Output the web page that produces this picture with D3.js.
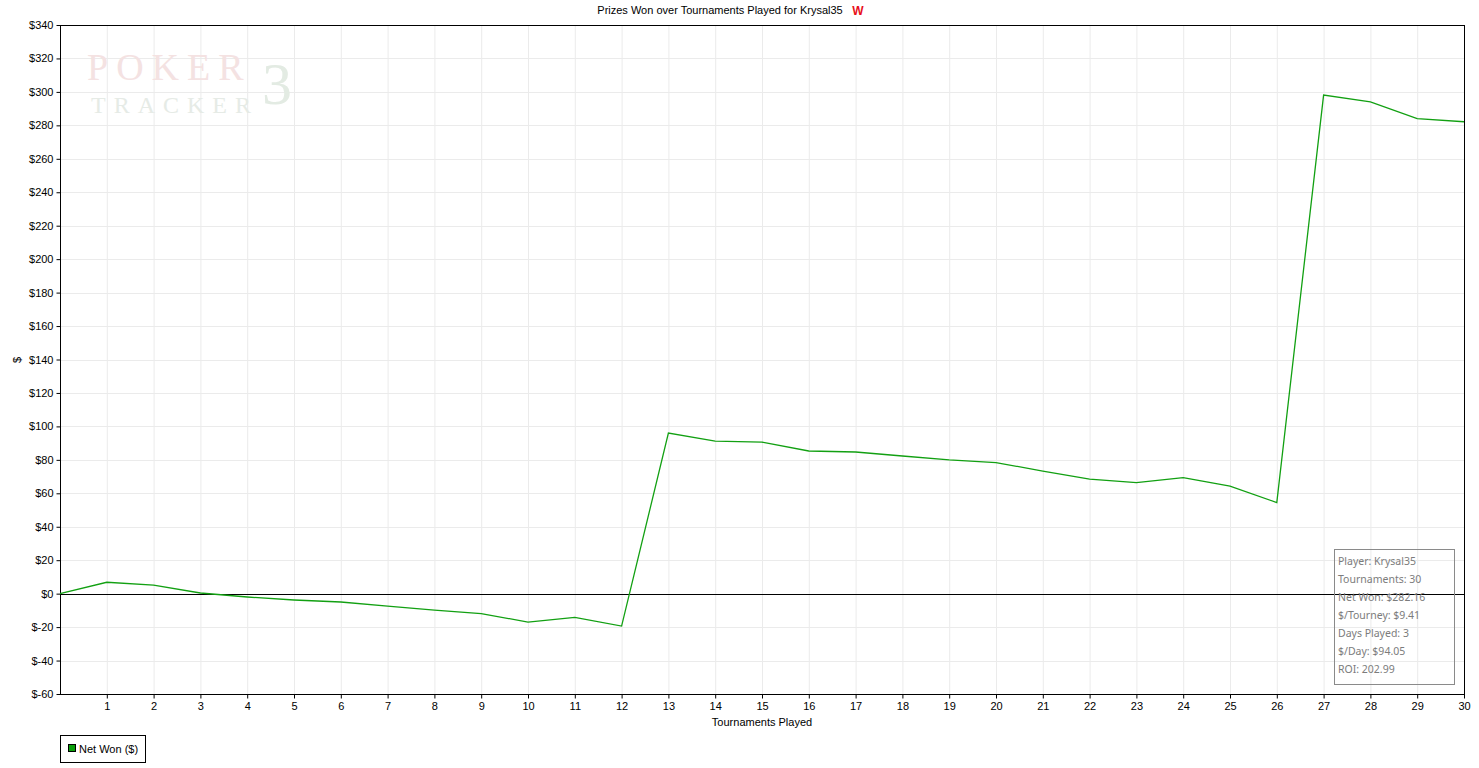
<!DOCTYPE html>
<html><head><meta charset="utf-8">
<script src="https://cdn.jsdelivr.net/npm/d3@7"></script>
<style>body{margin:0;background:#fff;}svg{display:block;}</style>
</head><body>
<script>
const tournaments = d3.range(0, 31);
const netWon = [0, 6.8, 5.1, 0.4, -2, -3.8, -5, -7.4, -9.8, -11.9, -17, -14.2, -19.4, 96, 91.2, 90.6, 85.3, 84.7, 82.3, 80, 78.4, 73.3, 68.5, 66.4, 69.4, 64.3, 54.5, 298.1, 294.1, 284, 282.16];
const xTicks = d3.range(1, 31);
const yTicks = d3.range(-60, 341, 20);
const infoLines = ["Player: Krysal35", "Tournaments: 30", "Net Won: $282.16", "$/Tourney: $9.41", "Days Played: 3", "$/Day: $94.05", "ROI: 202.99"];
const title = "Prizes Won over Tournaments Played for Krysal35";
const seriesName = "Net Won ($)";

const W = 1479, H = 768;
const L = 60, R = 1464, T = 25, B = 694;
const svg = d3.select("body").append("svg").attr("width", W).attr("height", H);
const font = "'Liberation Sans', Arial, sans-serif";

const x = d3.scaleLinear().domain([0, 30]).range([L, R]);
const y = d3.scaleLinear().domain([-60, 340]).range([B, T]);

// grid
svg.append("g").selectAll("line").data(xTicks).join("line")
  .attr("x1", d => x(d) + 0.5).attr("x2", d => x(d) + 0.5).attr("y1", T).attr("y2", B)
  .attr("stroke", "#ebebeb").attr("stroke-width", 1);
svg.append("g").selectAll("line").data(yTicks).join("line")
  .attr("x1", L).attr("x2", R).attr("y1", d => Math.round(y(d)) + 0.5).attr("y2", d => Math.round(y(d)) + 0.5)
  .attr("stroke", "#ebebeb").attr("stroke-width", 1);

// watermark
const wm = svg.append("g");
wm.append("text").attr("x", 87).attr("y", 80).text("POKER")
  .attr("font-family", "'Liberation Serif', 'DejaVu Serif', serif").attr("font-size", 38)
  .attr("letter-spacing", 8).attr("fill", "#f4e2e2");
wm.append("text").attr("x", 91).attr("y", 113).text("TRACKER")
  .attr("font-family", "'Liberation Serif', 'DejaVu Serif', serif").attr("font-size", 24)
  .attr("letter-spacing", 8).attr("fill", "#e6ebe6");
wm.append("text").attr("x", 262).attr("y", 104).text("3")
  .attr("font-family", "'Liberation Serif', 'DejaVu Serif', serif").attr("font-size", 60)
  .attr("fill", "#e3ebe3");

// axes
const yAxis = d3.axisLeft(y).tickValues(yTicks).tickSize(4).tickPadding(3)
  .tickFormat(d => "$" + d);
const gy = svg.append("g").attr("transform", `translate(${L + 0.5},0)`).call(yAxis);
gy.select(".domain").remove();
gy.selectAll("text").attr("font-family", font).attr("font-size", 11).attr("fill", "#000");
gy.selectAll("line").attr("stroke", "#000");

const xAxis = d3.axisBottom(x).tickValues(xTicks).tickSize(4).tickPadding(4).tickFormat(d3.format("d"));
const gx = svg.append("g").attr("transform", `translate(0,${B + 0.5})`).call(xAxis);
gx.select(".domain").remove();
gx.selectAll("text").attr("font-family", font).attr("font-size", 11).attr("fill", "#000");
gx.selectAll("line").attr("stroke", "#000");

// border
svg.append("rect").attr("x", L + 0.5).attr("y", T + 0.5).attr("width", R - L).attr("height", B - T)
  .attr("fill", "none").attr("stroke", "#000").attr("stroke-width", 1);

// zero line
svg.append("line").attr("x1", L).attr("x2", R).attr("y1", Math.round(y(0)) + 0.5).attr("y2", Math.round(y(0)) + 0.5)
  .attr("stroke", "#000").attr("stroke-width", 1);

// series
const line = d3.line().x((d, i) => x(tournaments[i])).y(d => y(d));
svg.append("path").datum(netWon).attr("d", line)
  .attr("fill", "none").attr("stroke", "#12a012").attr("stroke-width", 1.3);

// info box
const ib = svg.append("g");
ib.append("rect").attr("x", 1334.5).attr("y", 549.5).attr("width", 120).attr("height", 135)
  .attr("fill", "none").attr("stroke", "#8a8a8a").attr("stroke-width", 1);
ib.selectAll("text").data(infoLines).join("text")
  .attr("x", 1338).attr("y", (d, i) => 565 + i * 18).text(d => d)
  .attr("font-family", "'Noto Sans', 'DejaVu Sans', sans-serif").attr("font-size", 10.5)
  .attr("fill", "#7c7c7c");

// title
svg.append("text").attr("x", 720).attr("y", 14).attr("text-anchor", "middle").text(title)
  .attr("font-family", font).attr("font-size", 11).attr("fill", "#000");
svg.append("text").attr("x", 858).attr("y", 15).attr("text-anchor", "middle").text("W")
  .attr("font-family", font).attr("font-size", 12).attr("font-weight", "bold").attr("fill", "#e8101a");

// axis titles
svg.append("text").attr("x", 762).attr("y", 726).attr("text-anchor", "middle").text("Tournaments Played")
  .attr("font-family", font).attr("font-size", 11).attr("fill", "#000");
svg.append("text").attr("transform", "translate(21,360) rotate(-90)").attr("text-anchor", "middle").text("$")
  .attr("font-family", font).attr("font-size", 11).attr("fill", "#000");

// legend
const lg = svg.append("g");
lg.append("rect").attr("x", 60.5).attr("y", 735.5).attr("width", 85).attr("height", 27)
  .attr("fill", "#fff").attr("stroke", "#000").attr("stroke-width", 1);
lg.append("rect").attr("x", 68.5).attr("y", 744.5).attr("width", 7).attr("height", 7)
  .attr("fill", "#0a9e0a").attr("stroke", "#000").attr("stroke-width", 1);
lg.append("text").attr("x", 79).attr("y", 752.5).text(seriesName)
  .attr("font-family", font).attr("font-size", 11).attr("fill", "#000");
</script>
</body></html>
